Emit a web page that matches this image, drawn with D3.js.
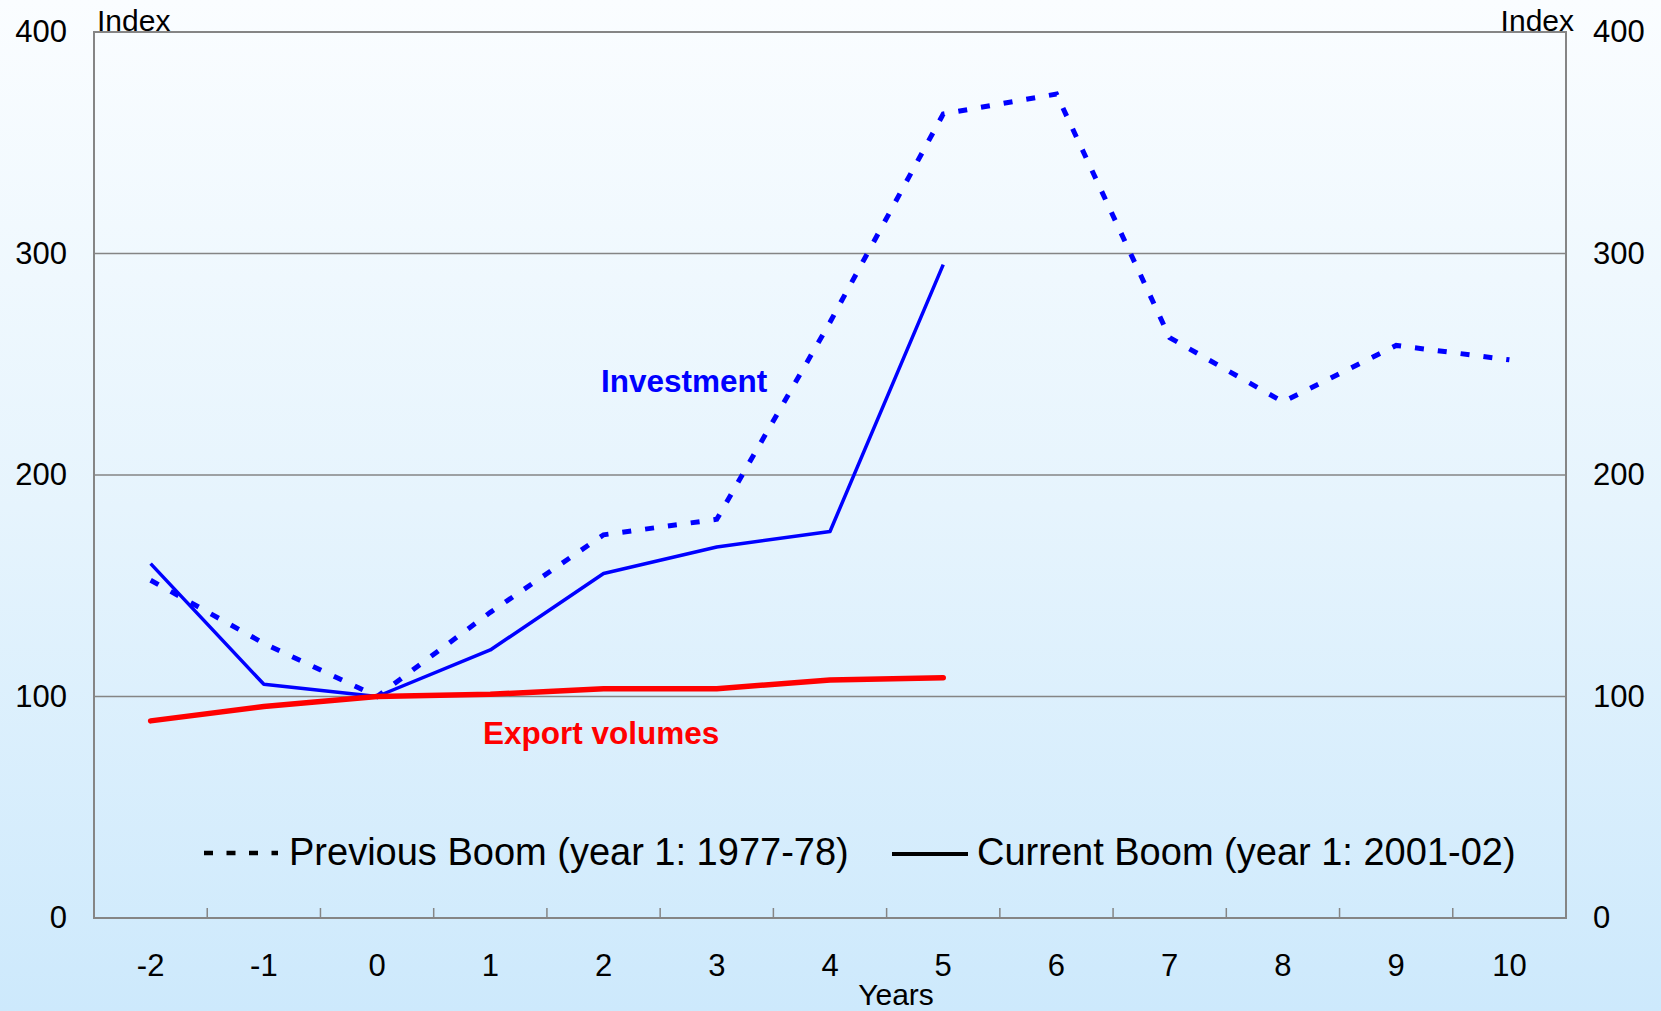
<!DOCTYPE html>
<html>
<head>
<meta charset="utf-8">
<script src="https://cdn.jsdelivr.net/npm/d3@7"></script>
<style>
body { margin: 0; }
text { font-family: Arial, "Liberation Sans", sans-serif; }
</style>
</head>
<body>
<script>
var w = 1661,
h = 1011,
plotLeft = 94, plotRight = 1566, plotTop = 32, plotBottom = 918;

// data
var years = ["-2","-1","0","1","2","3","4","5","6","7","8","9","10"];
var yTicks = [0, 100, 200, 300, 400];
var prevInvestment = [152.5, 124, 100, 138, 173, 180, 269, 363, 372, 262, 233, 258.5, 252];
var currInvestment = [160, 105.5, 100, 121, 155.5, 167.5, 174.5, 295];
var currExports = [89, 95.5, 100, 101, 103.5, 103.5, 107.5, 108.5];

var svg = d3.select("body").append("svg")
  .attr("width", w)
  .attr("height", h);

// background gradient
var grad = svg.append("defs").append("linearGradient")
  .attr("id", "bg")
  .attr("x1", 0).attr("y1", 0).attr("x2", 0).attr("y2", 1);
grad.append("stop").attr("offset", "0%").attr("stop-color", "#fafdff");
grad.append("stop").attr("offset", "50%").attr("stop-color", "#e6f4fd");
grad.append("stop").attr("offset", "100%").attr("stop-color", "#cde9fc");

svg.append("rect")
  .attr("width", w)
  .attr("height", h)
  .attr("fill", "url(#bg)");

var x = d3.scaleBand().domain(years).range([plotLeft, plotRight]).padding(0);
var y = d3.scaleLinear().domain([0, 400]).range([plotBottom, plotTop]);
var cx = function(i) { return x(years[i]) + x.bandwidth() / 2; };

// gridlines
svg.append("g").selectAll("line")
  .data([100, 200, 300])
  .enter().append("line")
  .attr("x1", plotLeft).attr("x2", plotRight)
  .attr("y1", function(d) { return y(d); })
  .attr("y2", function(d) { return y(d); })
  .attr("stroke", "#858585")
  .attr("stroke-width", 1.5);

// frame
svg.append("rect")
  .attr("x", plotLeft).attr("y", plotTop)
  .attr("width", plotRight - plotLeft).attr("height", plotBottom - plotTop)
  .attr("fill", "none")
  .attr("stroke", "#858585")
  .attr("stroke-width", 2);

// x tick marks at band edges
svg.append("g").selectAll("line")
  .data(years.slice(1))
  .enter().append("line")
  .attr("x1", function(d) { return x(d); })
  .attr("x2", function(d) { return x(d); })
  .attr("y1", plotBottom).attr("y2", plotBottom - 10)
  .attr("stroke", "#858585")
  .attr("stroke-width", 1.5);

// axes
var leftAxis = svg.append("g")
  .attr("transform", "translate(" + plotLeft + ",0)")
  .call(d3.axisLeft(y).tickValues(yTicks).tickSize(0).tickPadding(27));
var rightAxis = svg.append("g")
  .attr("transform", "translate(" + plotRight + ",0)")
  .call(d3.axisRight(y).tickValues(yTicks).tickSize(0).tickPadding(27));
var bottomAxis = svg.append("g")
  .attr("transform", "translate(0," + plotBottom + ")")
  .call(d3.axisBottom(x).tickSize(0).tickPadding(36));

[leftAxis, rightAxis, bottomAxis].forEach(function(g) {
  g.select(".domain").remove();
  g.selectAll("text")
    .attr("fill", "#000")
    .style("font-size", "31px")
    .style("font-family", "Arial, 'Liberation Sans', sans-serif");
});

svg.append("text")
  .attr("x", 97).attr("y", 31)
  .style("font-size", "30px")
  .text("Index");
svg.append("text")
  .attr("x", 1574).attr("y", 31)
  .attr("text-anchor", "end")
  .style("font-size", "30px")
  .text("Index");
svg.append("text")
  .attr("x", 896).attr("y", 1005)
  .attr("text-anchor", "middle")
  .style("font-size", "30px")
  .text("Years");

// lines
var line = d3.line()
  .x(function(d, i) { return cx(i); })
  .y(function(d) { return y(d); });

svg.append("path")
  .datum(prevInvestment)
  .attr("d", line)
  .attr("fill", "none")
  .attr("stroke", "#0000ff")
  .attr("stroke-width", 5)
  .attr("stroke-dasharray", "9,14");

svg.append("path")
  .datum(currInvestment)
  .attr("d", line)
  .attr("fill", "none")
  .attr("stroke", "#0000ff")
  .attr("stroke-width", 3.5)
  .attr("stroke-linejoin", "round");

svg.append("path")
  .datum(currExports)
  .attr("d", line)
  .attr("fill", "none")
  .attr("stroke", "#ff0000")
  .attr("stroke-width", 5.5)
  .attr("stroke-linecap", "round")
  .attr("stroke-linejoin", "round");

// series labels
svg.append("text")
  .attr("x", 601).attr("y", 392)
  .attr("fill", "#0000ff")
  .style("font-size", "31.5px")
  .style("font-weight", "bold")
  .text("Investment");
svg.append("text")
  .attr("x", 483).attr("y", 744)
  .attr("fill", "#ff0000")
  .style("font-size", "31.5px")
  .style("font-weight", "bold")
  .text("Export volumes");

// legend
svg.append("line")
  .attr("x1", 204).attr("x2", 278)
  .attr("y1", 853).attr("y2", 853)
  .attr("stroke", "#000")
  .attr("stroke-width", 4.5)
  .attr("stroke-dasharray", "9,13.5");
svg.append("text")
  .attr("x", 289).attr("y", 865)
  .style("font-size", "38px")
  .text("Previous Boom (year 1: 1977-78)");

svg.append("line")
  .attr("x1", 892).attr("x2", 968)
  .attr("y1", 854).attr("y2", 854)
  .attr("stroke", "#000")
  .attr("stroke-width", 4);
svg.append("text")
  .attr("x", 977).attr("y", 865)
  .style("font-size", "38px")
  .text("Current Boom (year 1: 2001-02)");
</script>
</body>
</html>
